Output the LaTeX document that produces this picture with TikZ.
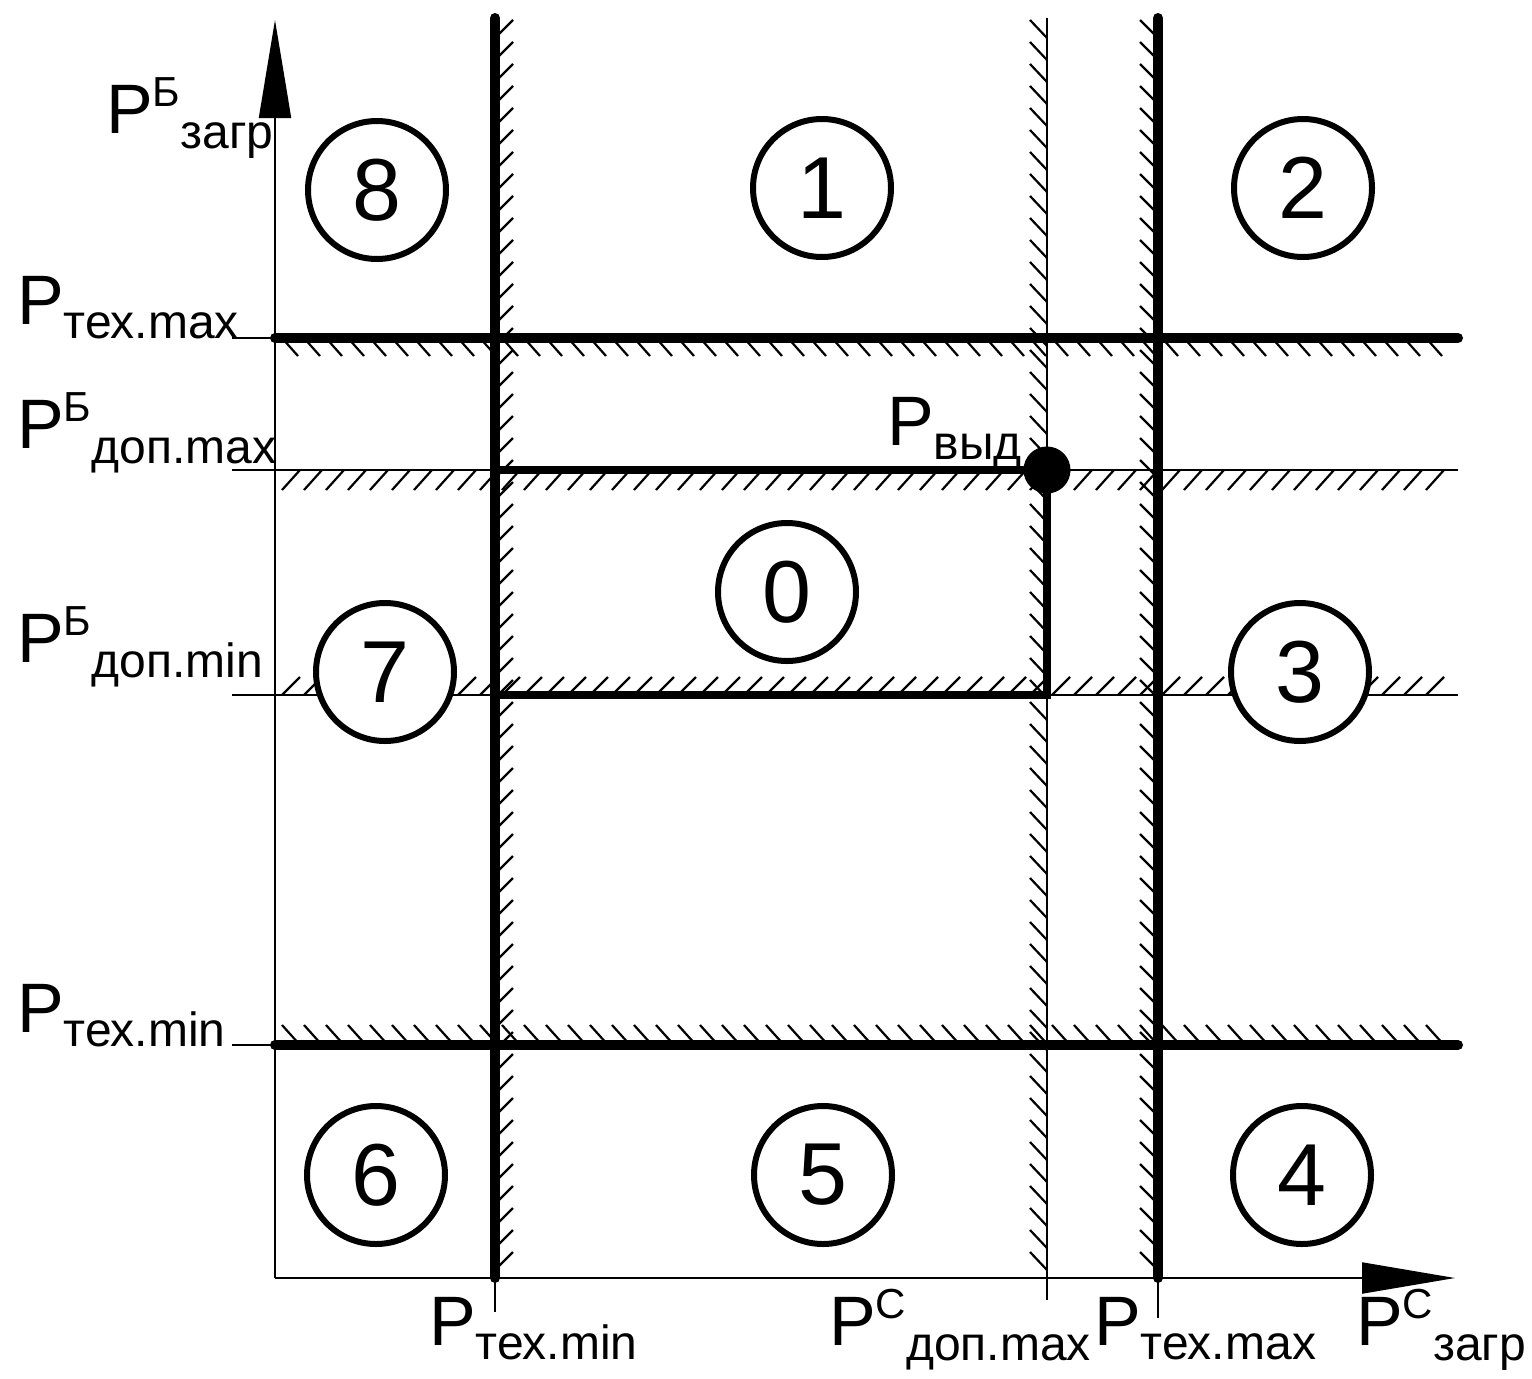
\documentclass[tikz,border=0pt]{standalone}
\usepackage{fontspec}
\setmainfont{Liberation Sans}
\usetikzlibrary{arrows.meta}
\newcommand{\PLsup}[2]{\fontsize{70}{70}\selectfont P\raisebox{27pt}{\fontsize{42}{42}\selectfont #1}\raisebox{-15pt}{\fontsize{48}{48}\selectfont #2}}
\newcommand{\PLsub}[1]{\fontsize{70}{70}\selectfont P\raisebox{-14pt}{\fontsize{48}{48}\selectfont #1}}
\begin{document}
\begin{tikzpicture}[x=1pt,y=-1pt,
  thin line/.style={line width=2pt},
  thick line/.style={line width=10pt,line cap=round},
  hatch/.style={line width=2.2pt},
  zone/.style={circle,draw,fill=white,line width=6pt,minimum size=138pt,inner sep=0pt,font=\fontsize{88}{88}\selectfont},
  lbl/.style={anchor=base west,inner sep=0pt}]
\useasboundingbox (0,0) rectangle (1532,1379);
% hatching
\foreach \y in {38,60,...,1270} {
  \draw[hatch] (495,\y) -- ++(18,-18);
  \draw[hatch] (1030,\y-18) -- (1047,\y);
  \draw[hatch] (1140,\y-18) -- (1158,\y);
}
\foreach \x in {282,304,...,1440} {
  \draw[hatch] (\x,338) -- ++(16,18);
  \draw[hatch] (\x,490) -- ++(18,-20);
  \draw[hatch] (\x,695) -- ++(18,-18);
  \draw[hatch] (\x,1025) -- ++(18,20);
}
% axes
\coordinate (O) at (275,1278);
\coordinate (ytip) at (275,20);
\coordinate (xtip) at (1455,1278);
\draw[thin line,-{Triangle[length=98pt,width=32pt]}] (O) -- (ytip);
\draw[thin line,-{Triangle[length=93pt,width=31pt]}] (O) -- (xtip);
% thin grid lines
\draw[thin line] (232,470) -- (1458,470);
\draw[thin line] (232,695) -- (1458,695);
\draw[thin line] (1047,18) -- (1047,1300);
\draw[thin line] (232,338) -- (275,338);
\draw[thin line] (232,1045) -- (275,1045);
\draw[thin line] (495,1278) -- (495,1312);
\draw[thin line] (1158,1278) -- (1158,1318);
% thick lines
\draw[thick line] (275,338) -- (1458,338);
\draw[thick line] (275,1045) -- (1458,1045);
\draw[thick line] (495,18) -- (495,1278);
\draw[thick line] (1158,18) -- (1158,1278);
% operating region
\coordinate (a) at (495,470);
\coordinate (d) at (1047,470);
\coordinate (e) at (1047,695);
\coordinate (f) at (495,695);
\draw[line width=8pt,line join=miter] (a) -- (d) -- (e) -- (f);
\fill (d) circle (23.5);
% zones
\node[zone] (c8) at (377,190) {8};
\node[zone] (c1) at (822,188) {1};
\node[zone] (c2) at (1303,188) {2};
\node[zone] (c0) at (787,592) {0};
\node[zone] (c7) at (385,672) {7};
\node[zone] (c3) at (1300,672) {3};
\node[zone] (c6) at (376,1175) {6};
\node[zone] (c5) at (823,1175) {5};
\node[zone] (c4) at (1302,1175) {4};
% labels
\node[lbl] (ly) at (106,133) {\PLsup{Б}{загр}};
\node[lbl] (l1) at (17,324) {\PLsub{тех.max}};
\node[lbl] (l2) at (17,448) {\PLsup{Б}{доп.max}};
\node[lbl] (l3) at (17,662) {\PLsup{Б}{доп.min}};
\node[lbl] (l4) at (17,1032) {\PLsub{тех.min}};
\node[lbl] (l5) at (429,1345) {\PLsub{тех.min}};
\node[lbl] (l6) at (829,1345) {\PLsup{С}{доп.max}};
\node[lbl] (l7) at (1094,1345) {\PLsub{тех.max}};
\node[lbl] (lx) at (1356,1345) {\PLsup{C}{загр}};
\node[lbl] (lv) at (887,445) {\PLsub{выд}};
\end{tikzpicture}
\end{document}
